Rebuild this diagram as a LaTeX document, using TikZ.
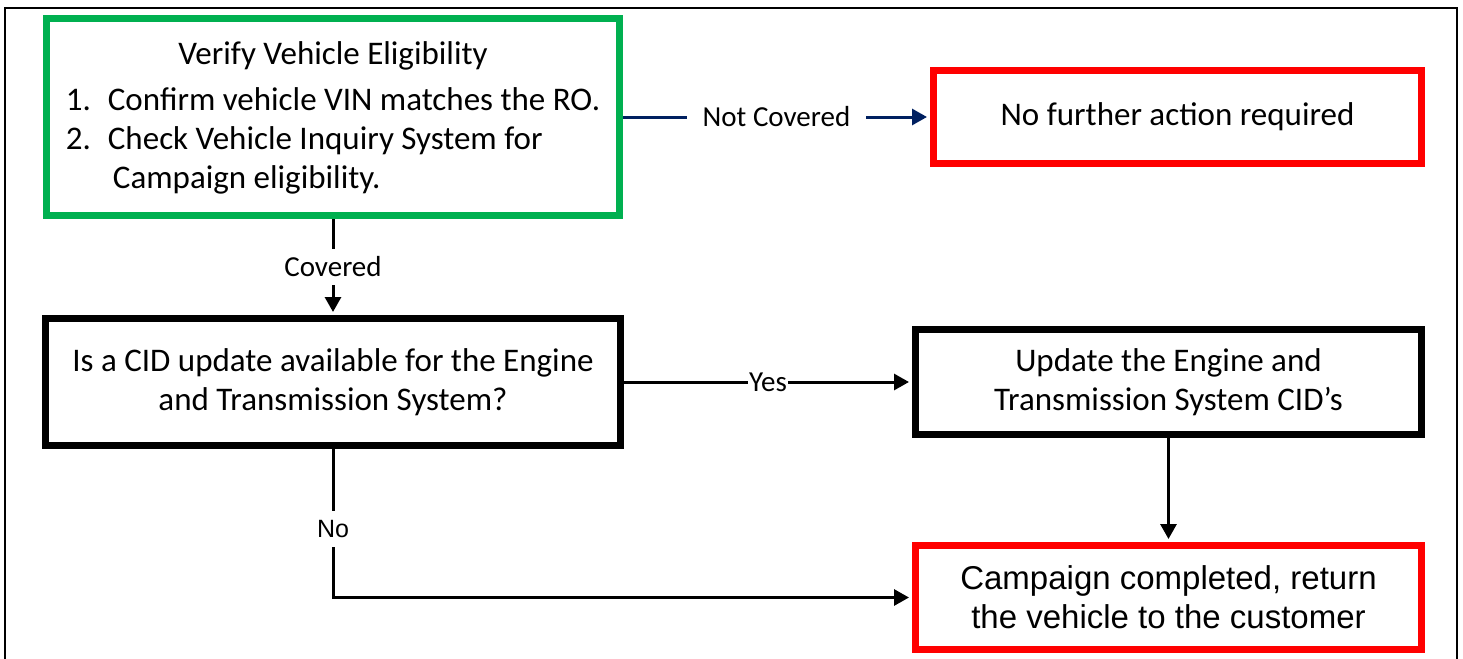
\documentclass[tikz,border=0pt]{standalone}
\usepackage{fontspec}
\setmainfont{Carlito}
\newfontfamily\arialfont{Liberation Sans}
\usepackage{tikz}
\usetikzlibrary{calc}
\usetikzlibrary{arrows.meta}

\definecolor{okGreen}{HTML}{00B050}
\definecolor{stopRed}{HTML}{FF0000}
\definecolor{linkNavy}{HTML}{002060}

\begin{document}
\begin{tikzpicture}[x=0.5pt, y=-0.5pt,
    box/.style={draw, line width=3.5pt, fill=white, align=center, inner sep=0pt,
                font=\fontsize{16.5}{19.5}\selectfont},
    greenbox/.style={box, draw=okGreen},
    redbox/.style={box, draw=stopRed},
    blackbox/.style={box, draw=black},
    flow/.style={line width=1.5pt, -{Triangle[length=7.5pt, width=8pt]}, shorten >=1.5pt},
    tag/.style={fill=white, inner sep=0.5pt, font=\fontsize{14.5}{17}\selectfont}]

\useasboundingbox (0,0) rectangle (1463,659);
% --- OUTER FRAME ---
\draw[line width=0.6pt] (5,8) rectangle (1457,675);

% --- BOXES ---
\node[greenbox, minimum width=286.5pt, minimum height=98.5pt] (verify) at (333,117) {%
    \begin{tabular}{@{}l@{\hspace{8.5pt}}l@{}}
    \multicolumn{2}{c}{\raisebox{-1.5pt}{Verify Vehicle Eligibility}}\\[5pt]
    1. & Confirm vehicle VIN matches the RO.\\
    2. & Check Vehicle Inquiry System for\\
       & \hspace{2.5pt}Campaign eligibility.
    \end{tabular}};
\node[redbox, minimum width=244pt, minimum height=46.5pt] (nofurther) at (1177.5,117)
    {No further action required};
\node[blackbox, minimum width=287.5pt, minimum height=63.5pt] (cidq) at (333,382)
    {Is a CID update available for the Engine\\and Transmission System?};
\node[blackbox, minimum width=253pt, minimum height=52.5pt] (update) at (1168.5,382)
    {Update the Engine and\\Transmission System CID’s};
\node[redbox, minimum width=253pt, minimum height=52pt,
      font=\arialfont\fontsize{16.5}{19.5}\selectfont] (done) at (1168.5,597.5)
    {Campaign completed, return\\the vehicle to the customer};

% --- CONNECTORS ---
\draw[flow, linkNavy] (verify.east) -- node[tag, text=black, inner xsep=8pt] {Not Covered} (nofurther.west);
\draw[flow] (verify.south) -- node[tag, inner ysep=4pt] {Covered} (cidq.north);
\draw[flow] (cidq.east) -- node[tag] {Yes} (update.west);
\draw[flow] (update.south) -- (done.north);
\draw[flow] (cidq.south) |- node[tag, pos=0.27, inner ysep=4.5pt,
    font=\arialfont\fontsize{12.5}{15}\selectfont] {No} (done.west);
\end{tikzpicture}
\end{document}
